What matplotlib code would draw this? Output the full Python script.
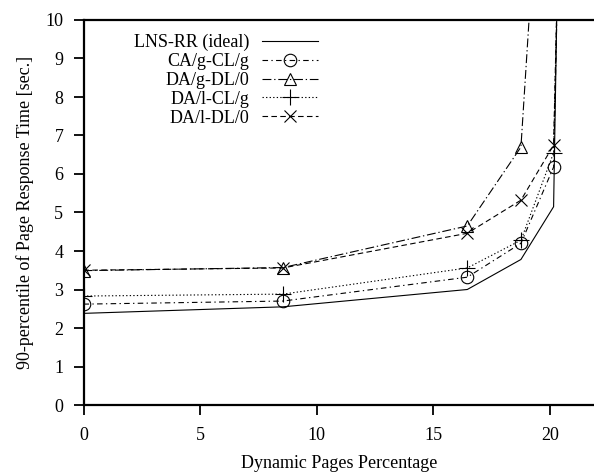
import matplotlib
matplotlib.use("Agg")
import matplotlib.pyplot as plt

plt.rcParams['font.family'] = ['Liberation Serif', 'DejaVu Serif']

# dynamic pages percentage
x_pct = [0, 8.55, 16.45, 18.75, 20.15, 20.5]

lns_rr = [2.38, 2.55, 3.0, 3.78, 5.15, 18.0]
ca_g_cl_g = [2.62, 2.7, 3.32, 4.2, 6.18, 16.0]
da_g_dl_0 = [3.49, 3.57, 4.65, 6.7, 20.0, 30.0]
da_l_cl_g = [2.83, 2.88, 3.56, 4.28, 6.55, 16.0]
da_l_dl_0 = [3.5, 3.56, 4.46, 5.32, 6.75, 16.0]

labels = ['LNS-RR (ideal)', 'CA/g-CL/g', 'DA/g-DL/0', 'DA/l-CL/g', 'DA/l-DL/0']
xticks = [0, 5, 10, 15, 20]
yticks = list(range(0, 11))

fig = plt.figure(figsize=(5.94, 4.73), dpi=100)
ax = fig.add_axes([83.5 / 594, 68 / 473, (594 - 83.5) / 594, 385 / 473])

lw = 0.8
ax.plot(x_pct, lns_rr, color='black', lw=lw, ls='-', label=labels[0])
ax.plot(x_pct, ca_g_cl_g, color='black', lw=lw, dashes=(5, 3, 1.2, 3),
        marker='o', ms=9, mfc='none', mew=0.8, label=labels[1])
ax.plot(x_pct, da_g_dl_0, color='black', lw=lw, dashes=(8, 2.5, 1.2, 2.5),
        marker='^', ms=9, mfc='none', mew=0.8, label=labels[2])
ax.plot(x_pct, da_l_cl_g, color='black', lw=lw, dashes=(1.2, 2),
        marker='+', ms=11, mew=0.8, label=labels[3])
ax.plot(x_pct, da_l_dl_0, color='black', lw=lw, dashes=(5, 3),
        marker='x', ms=9, mew=0.8, label=labels[4])

ax.set_xlim(0, (594 - 83.5) / 23.33)
ax.set_ylim(0, 10)
ax.set_xticks(xticks)
ax.set_yticks(yticks)
ax.tick_params(direction='out', length=7.5, width=1.3, labelsize=13, pad=7)
ax.tick_params(axis='x', pad=8)
for s in ['left', 'bottom', 'top']:
    ax.spines[s].set_linewidth(1.6)
ax.spines['right'].set_visible(False)

ax.set_xlabel('Dynamic Pages Percentage', fontsize=13, labelpad=8)
ax.set_ylabel('90-percentile of Page Response Time [sec.]', fontsize=13, labelpad=8)

leg = ax.legend(loc='upper right', bbox_to_anchor=(318 / 594, 1 - 34 / 473),
                bbox_transform=fig.transFigure, frameon=False, markerfirst=False,
                fontsize=13, handlelength=3.1, handletextpad=0.7,
                labelspacing=0.1, borderpad=0, borderaxespad=0)

fig.savefig('out.png', dpi=100)
